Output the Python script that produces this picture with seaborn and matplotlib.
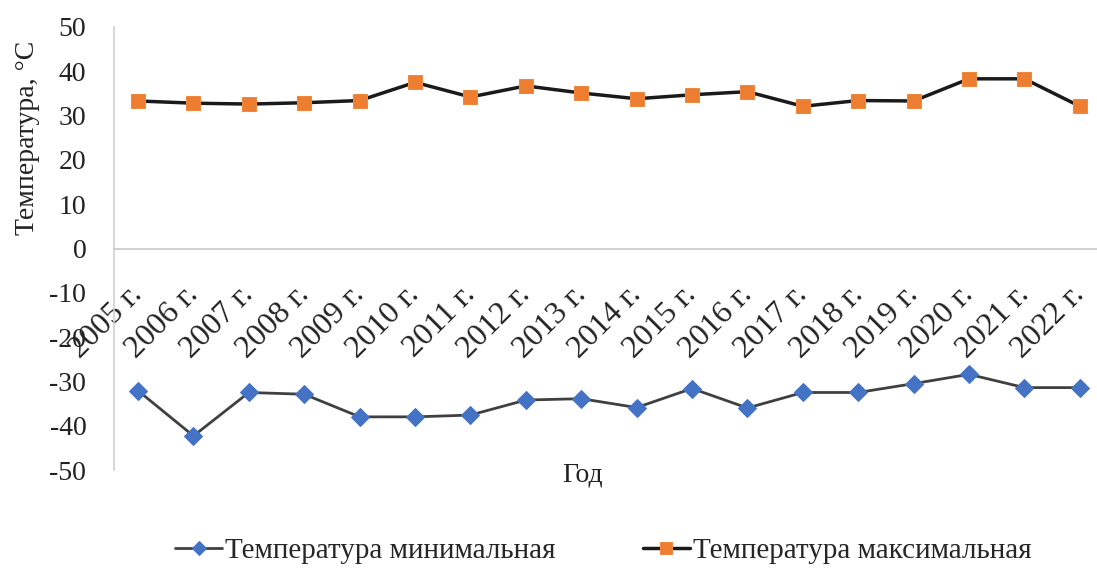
import matplotlib
matplotlib.use("Agg")
import matplotlib.pyplot as plt
import matplotlib.transforms as mtransforms
import seaborn as sns
import pandas as pd
import numpy as np

years = ["2005 г.", "2006 г.", "2007 г.", "2008 г.", "2009 г.", "2010 г.", "2011 г.", "2012 г.",
         "2013 г.", "2014 г.", "2015 г.", "2016 г.", "2017 г.", "2018 г.", "2019 г.", "2020 г.",
         "2021 г.", "2022 г."]
t_min = [-32.1, -42.3, -32.5, -32.9, -38.0, -38.0, -37.6, -34.2, -33.9, -35.9, -31.6, -36.0,
         -32.5, -32.5, -30.5, -28.4, -31.4, -31.4]
t_max = [33.3, 32.8, 32.6, 32.9, 33.4, 37.5, 34.2, 36.7, 35.1, 33.8, 34.7, 35.4,
         32.1, 33.4, 33.3, 38.3, 38.3, 32.1]
y_ticks = [50, 40, 30, 20, 10, 0, -10, -20, -30, -40, -50]
label_min = "Температура минимальная"
label_max = "Температура максимальная"

sns.set_theme(style="white")
plt.rcParams['font.family'] = ['Liberation Serif', 'DejaVu Serif']

df = pd.DataFrame({"pos": np.arange(len(years)), "min": t_min, "max": t_max})

fig = plt.figure(figsize=(10.97, 5.68), dpi=100)
ax = fig.add_axes([0.104, 0.1725, 0.896, 0.78])

sns.lineplot(data=df, x="pos", y="min", ax=ax, color="#404040", lw=2,
             marker="D", markersize=9, markerfacecolor="#4472C4", markeredgecolor="#4472C4",
             label=label_min, sort=False)
sns.lineplot(data=df, x="pos", y="max", ax=ax, color="#1a1a1a", lw=2.5,
             marker="s", markersize=10, markerfacecolor="#ED7D31", markeredgecolor="#F0883E",
             label=label_max, sort=False)

ax.set_xlim(-0.433, 17.31)
ax.set_ylim(-50, 50)
ax.set_yticks(y_ticks)
ax.set_yticklabels([str(v) for v in y_ticks], fontsize=20, color="#222222")
ax.tick_params(axis="y", length=0, pad=20)

ax.spines['top'].set_visible(False)
ax.spines['right'].set_visible(False)
ax.spines['left'].set_color("#D0D0D0")
ax.spines['left'].set_linewidth(1.2)
ax.spines['bottom'].set_position(('data', 0))
ax.spines['bottom'].set_color("#C8C8C8")
ax.spines['bottom'].set_linewidth(1.2)

ax.set_xticks(df["pos"])
ax.set_xticklabels(years, fontsize=23, rotation=45, ha="right", va="top",
                   rotation_mode="anchor", color="#222222")
ax.tick_params(axis="x", length=0, pad=23)
offset = mtransforms.ScaledTranslation(-10 / 100, 0, fig.dpi_scale_trans)
for lbl in ax.get_xticklabels():
    lbl.set_transform(lbl.get_transform() + offset)

ax.set_xlabel("")
ax.set_ylabel("Температура, °С", fontsize=20, color="#222222")
ax.yaxis.set_label_coords(-0.075, 0.75)
ax.text(583 / 1097, 1 - 475 / 568, "Год", transform=fig.transFigure, fontsize=20,
        ha="center", va="center", color="#222222")

ax.get_legend().remove()
handles, labels = ax.get_legend_handles_labels()
fig.legend(handles, labels, loc="center", bbox_to_anchor=(0.55, 1 - 551 / 568), ncol=2,
           frameon=False, fontsize=21, handlelength=1.6, columnspacing=3.0, markerscale=0.8,
           handletextpad=0.1)

fig.savefig("out.png", dpi=100)
